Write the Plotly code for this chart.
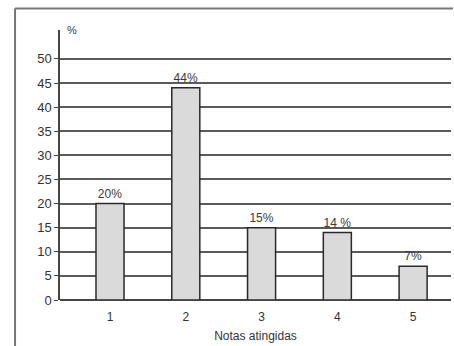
import plotly.graph_objects as go

categories = [1, 2, 3, 4, 5]
values = [20, 44, 15, 14, 7]
labels = ["20%", "44%", "15%", "14 %", "7%"]
y_ticks = [0, 5, 10, 15, 20, 25, 30, 35, 40, 45, 50]

fig = go.Figure()
fig.add_trace(go.Bar(
    x=categories, y=values, width=0.37,
    marker=dict(color="#dadada", line=dict(color="#2a2a2a", width=1.5)),
    text=labels, textposition="outside", cliponaxis=False,
    textfont=dict(family="Liberation Sans", size=12, color="#3a3a3a"),
))

fig.update_layout(
    width=454, height=346,
    margin=dict(l=60, r=3, t=30, b=46),
    paper_bgcolor="white", plot_bgcolor="white",
    showlegend=False,
    font=dict(family="Liberation Sans", size=12, color="#333"),
    xaxis=dict(
        range=[0.34, 5.5], tickvals=categories, ticktext=[str(c) for c in categories],
        showgrid=False, showline=False, ticks="", zeroline=False,
        ticklabelstandoff=8,
        title=dict(text="Notas atingidas", font=dict(size=12, color="#333"), standoff=8),
        tickfont=dict(size=12, color="#333"),
    ),
    yaxis=dict(
        range=[0, 56], tickvals=y_ticks,
        showgrid=True, gridcolor="#5a5a5a", gridwidth=2,
        showline=True, linecolor="#444", linewidth=1.5,
        ticks="outside", ticklen=4, tickcolor="#444", tickwidth=1,
        zeroline=True, zerolinecolor="#444", zerolinewidth=2,
        tickfont=dict(size=13, color="#333"),
    ),
    annotations=[dict(text="%", xref="paper", yref="paper", x=0.012, y=1.0,
                      xanchor="left", yanchor="middle", showarrow=False,
                      font=dict(size=11, color="#3a3a3a"))],
    shapes=[
        dict(type="line", xref="paper", yref="paper", x0=-0.115, x1=-0.115,
             y0=1.08, y1=-0.2, line=dict(color="#777", width=2)),
        dict(type="line", xref="paper", yref="paper", x0=-0.115, x1=1.005,
             y0=1.08, y1=1.08, line=dict(color="#777", width=2)),
    ],
)

fig.write_html("out.html")
